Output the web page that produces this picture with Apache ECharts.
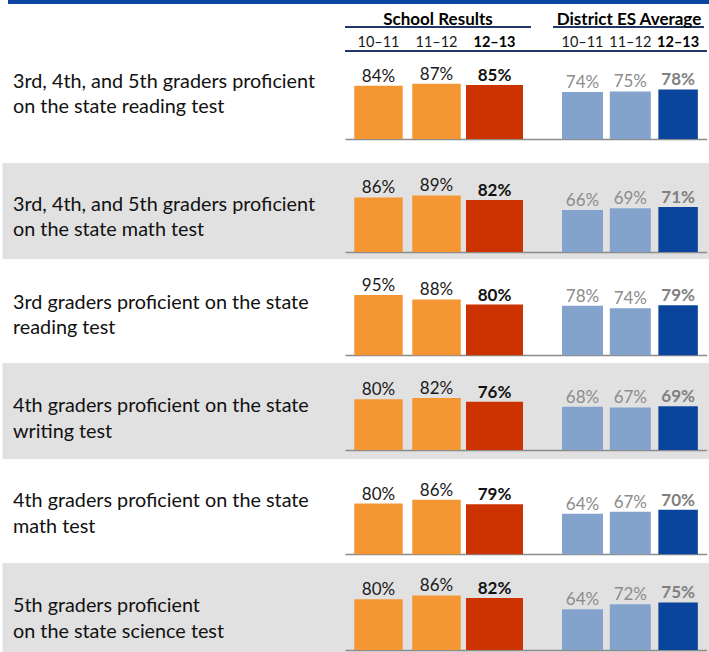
<!DOCTYPE html>
<html><head><meta charset="utf-8">
<script src="https://cdn.jsdelivr.net/npm/echarts@6/dist/echarts.min.js"></script>
<style>html,body{margin:0;padding:0;background:#fff}#c{width:709px;height:652px}</style>
</head><body><div id="c"></div>
<script>
// ---- data ----
const years = ['10–11', '11–12', '12–13'];
const groupTitles = ['School Results', 'District ES Average'];
const rowLabels = [
  '3rd, 4th, and 5th graders proficient\non the state reading test',
  '3rd, 4th, and 5th graders proficient\non the state math test',
  '3rd graders proficient on the state\nreading test',
  '4th graders proficient on the state\nwriting test',
  '4th graders proficient on the state\nmath test',
  '5th graders proficient\non the state science test'
];
const schoolResults = [
  [84, 87, 85], [86, 89, 82], [95, 88, 80], [80, 82, 76], [80, 86, 79], [80, 86, 82]
];
const districtAverage = [
  [74, 75, 78], [66, 69, 71], [78, 74, 79], [68, 67, 69], [64, 67, 70], [64, 72, 75]
];

// ---- layout / style ----
const FONT = 'Lato';
const baselines = [139, 252, 355.3, 450, 554.3, 650];
const textMids = [79.5, 202.5, 300.8, 404, 499, 604];
const bands = [[163, 259], [363, 459], [563, 652]];
const plotH = 63.5;
const schoolGrid = { left: 349.5, width: 174 };
const districtGrid = { left: 558.6, width: 143.4 };
const lineGrid = { left: 346, right: 2.3 };
const colors = { orange: '#f49733', red: '#cc3300', lightBlue: '#84a3cc', darkBlue: '#0b449c', navy: '#1f3868' };

const grid = [], xAxis = [], yAxis = [], series = [];
const hiddenCat = gi => ({ type: 'category', gridIndex: gi, data: years, show: false });
function labelStyle(color, bold) {
  return { show: true, position: 'top', distance: 2, formatter: '{c}%', fontFamily: FONT, fontSize: 17,
    color: color, fontWeight: bold ? 'bold' : 'normal' };
}
function prior(arr) { return arr.map((v, i) => i < 2 ? v : '-'); }
function current(arr) { return arr.map((v, i) => i === 2 ? v : '-'); }

baselines.forEach((b, r) => {
  const top = b - plotH;
  const g0 = grid.length;
  grid.push({ left: schoolGrid.left, width: schoolGrid.width, top: top, height: plotH });
  grid.push({ left: districtGrid.left, width: districtGrid.width, top: top, height: plotH });
  grid.push({ left: lineGrid.left, right: lineGrid.right, top: top, height: plotH });
  for (let k = 0; k < 3; k++) yAxis.push({ type: 'value', gridIndex: g0 + k, min: 0, max: 100, show: false });
  const x0 = xAxis.length;
  xAxis.push(hiddenCat(g0), hiddenCat(g0), hiddenCat(g0 + 1), hiddenCat(g0 + 1));
  xAxis.push({ type: 'value', gridIndex: g0 + 2, min: 0, max: 1,
    axisLine: { show: true, onZero: false, lineStyle: { color: '#8c8c8c', width: 1.3 } },
    axisTick: { show: false }, axisLabel: { show: false }, splitLine: { show: false } });
  const y0 = g0;
  series.push({ type: 'bar', xAxisIndex: x0, yAxisIndex: y0, barWidth: 48.5, data: prior(schoolResults[r]),
    itemStyle: { color: colors.orange }, label: labelStyle('#1a1a1a', false), silent: true, animation: false });
  series.push({ type: 'bar', xAxisIndex: x0 + 1, yAxisIndex: y0, barWidth: 57, data: current(schoolResults[r]),
    itemStyle: { color: colors.red }, label: labelStyle('#111', true), silent: true, animation: false });
  series.push({ type: 'bar', xAxisIndex: x0 + 2, yAxisIndex: y0 + 1, barWidth: 41, data: prior(districtAverage[r]),
    itemStyle: { color: colors.lightBlue }, label: labelStyle('#8c8c8c', false), silent: true, animation: false });
  series.push({ type: 'bar', xAxisIndex: x0 + 3, yAxisIndex: y0 + 1, barWidth: 39.5, data: current(districtAverage[r]),
    itemStyle: { color: colors.darkBlue }, label: labelStyle('#808080', true), silent: true, animation: false });
});

// header grids with year labels
[schoolGrid, districtGrid].forEach(gd => {
  const gi = grid.length;
  grid.push({ left: gd.left, width: gd.width, top: 51, height: 1 });
  yAxis.push({ type: 'value', gridIndex: gi, show: false });
  xAxis.push({ type: 'category', gridIndex: gi, position: 'top', data: years,
    axisLine: { show: false }, axisTick: { show: false },
    axisLabel: { interval: 0, margin: 2, fontFamily: FONT, fontSize: 14.5, color: '#1a1a1a',
      formatter: (v, i) => i === 2 ? '{b|' + v + '}' : v,
      rich: { b: { fontWeight: 'bold', fontFamily: FONT, fontSize: 14.5, color: '#000' } } } });
});

const graphic = [
  { type: 'rect', shape: { x: 8, y: 0, width: 701, height: 4 }, style: { fill: '#0b46a0' }, z: 0 },
  { type: 'line', shape: { x1: 345, y1: 27, x2: 531, y2: 27 }, style: { stroke: colors.navy, lineWidth: 2 }, z: 0 },
  { type: 'line', shape: { x1: 553, y1: 27, x2: 704, y2: 27 }, style: { stroke: colors.navy, lineWidth: 2 }, z: 0 },
  { type: 'line', shape: { x1: 345, y1: 51, x2: 707, y2: 51 }, style: { stroke: colors.navy, lineWidth: 2 }, z: 0 },
  { type: 'text', x: 438, y: 18.5, style: { text: groupTitles[0], textAlign: 'center', textVerticalAlign: 'middle',
    fontFamily: FONT, fontSize: 17, fontWeight: 'bold', fill: '#000' }, z: 1 },
  { type: 'text', x: 629, y: 18.5, style: { text: groupTitles[1], textAlign: 'center', textVerticalAlign: 'middle',
    fontFamily: FONT, fontSize: 17, fontWeight: 'bold', fill: '#000' }, z: 1 }
];
bands.forEach(bd => graphic.push({ type: 'rect', shape: { x: 2.5, y: bd[0], width: 706.5, height: bd[1] - bd[0] },
  style: { fill: '#e1e1e1' }, z: -1 }));
rowLabels.forEach((t, r) => graphic.push({ type: 'text', x: 13, y: textMids[r] - 12.75,
  style: { text: t, textAlign: 'left', textVerticalAlign: 'top', lineHeight: 25.5, fontFamily: FONT, fontSize: 19.8, fill: '#111' }, z: 1 }));

const chart = echarts.init(document.getElementById('c'), null, { renderer: 'svg' });
chart.setOption({ animation: false, grid, xAxis, yAxis, series, graphic });
</script></body></html>
